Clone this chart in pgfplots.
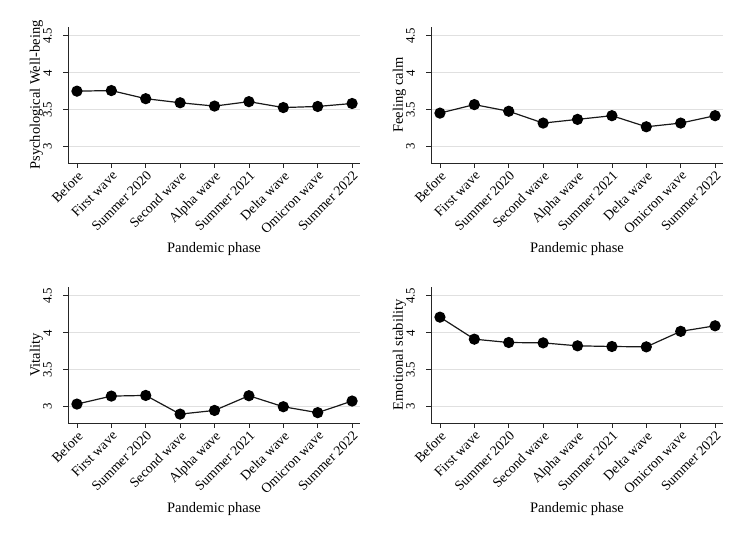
\documentclass[border=0pt]{standalone}
\usepackage{pgfplots}
\pgfplotsset{compat=1.18}
\usepackage{fontspec}
\setmainfont{Liberation Serif}
\begin{document}
\begin{tikzpicture}
\path[fill=white] (0pt,0pt) rectangle (750pt,546pt);
\pgfplotsset{
  panel/.style={
    scale only axis, width=292pt, height=136pt,
    xmin=-0.26, xmax=8.23, ymin=2.78, ymax=4.62,
    axis x line*=bottom, axis y line*=left,
    axis line style={black!85, line width=0.9pt},
    xtick={0,...,8},
    xticklabels={Before, First wave, Summer 2020, Second wave, Alpha wave, Summer 2021, Delta wave, Omicron wave, Summer 2022},
    xticklabel style={yshift=-0.5pt, rotate=45, anchor=north east, font=\fontsize{13.8}{13.8}\selectfont, inner sep=1pt},
    ytick={3,3.5,4,4.5}, yticklabels={3,3.5,4,4.5},
    yticklabel style={xshift=-10pt, rotate=90, anchor=south, font=\fontsize{12.8}{12.8}\selectfont, inner sep=1pt},
    tick align=outside, major tick length=5pt, tick style={black!85, line width=0.8pt},
    ymajorgrids, grid style={black!12, line width=0.8pt},
    xlabel={Pandemic phase},
    xlabel style={at={(axis description cs:0.5,-0.635)}, anchor=center, font=\fontsize{14.5}{14.5}\selectfont},
    ylabel style={at={(axis description cs:-0.108,0.5)}, anchor=center, font=\fontsize{14.5}{14.5}\selectfont},
    /pgf/number format/assume math mode=true,
    clip=false,
  },
  dataline/.style={black!90, line width=1.2pt, mark=*, mark size=5pt, mark options={fill=black, draw=black, solid}},
}
\begin{axis}[panel, at={(68pt,383pt)}, anchor=south west, ylabel={Psychological Well-being}]
\addplot[dataline] coordinates {(0,3.752) (1,3.76) (2,3.65) (3,3.595) (4,3.55) (5,3.61) (6,3.53) (7,3.545) (8,3.585)};
\end{axis}
\begin{axis}[panel, at={(431pt,383pt)}, anchor=south west, ylabel={Feeling calm}]
\addplot[dataline] coordinates {(0,3.455) (1,3.57) (2,3.48) (3,3.32) (4,3.37) (5,3.42) (6,3.27) (7,3.32) (8,3.42)};
\end{axis}
\begin{axis}[panel, at={(68pt,123pt)}, anchor=south west, ylabel={Vitality}]
\addplot[dataline] coordinates {(0,3.036) (1,3.144) (2,3.153) (3,2.90) (4,2.95) (5,3.149) (6,3.00) (7,2.92) (8,3.077)};
\end{axis}
\begin{axis}[panel, at={(431pt,123pt)}, anchor=south west, ylabel={Emotional stability}]
\addplot[dataline] coordinates {(0,4.212) (1,3.914) (2,3.869) (3,3.864) (4,3.824) (5,3.815) (6,3.81) (7,4.02) (8,4.095)};
\end{axis}
\end{tikzpicture}
\end{document}
